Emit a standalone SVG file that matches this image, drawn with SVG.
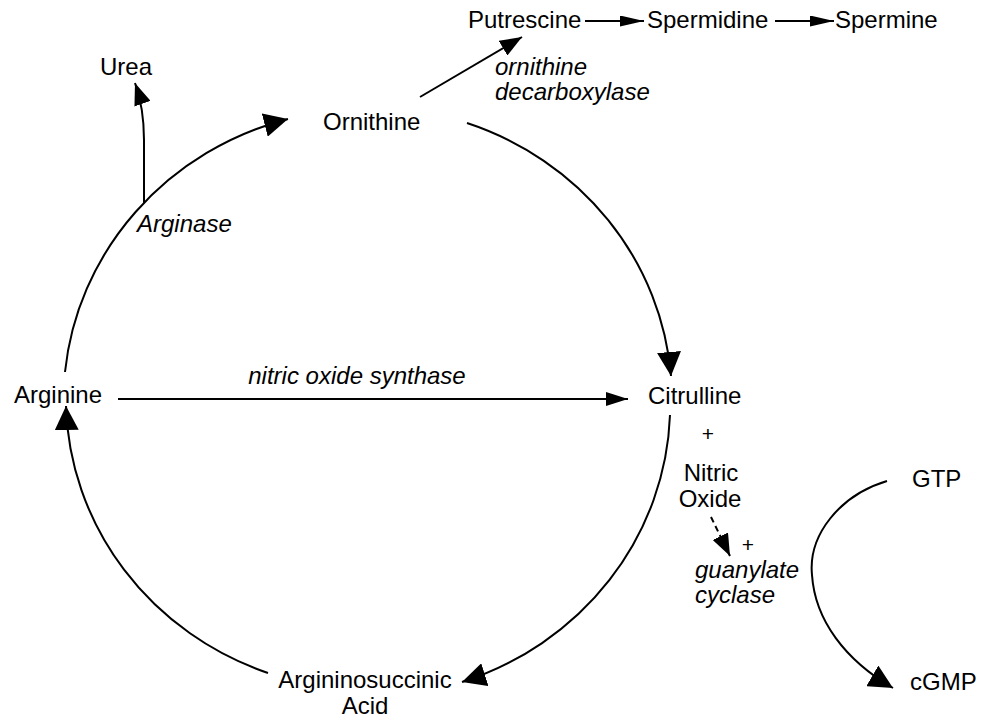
<svg xmlns="http://www.w3.org/2000/svg" width="981" height="719" viewBox="0 0 981 719">
<style>
  text { font-family: "Liberation Sans", Arial, Helvetica, sans-serif; font-size: 24px; fill: #000; }
  .it { font-style: italic; }
  .mid { text-anchor: middle; }
  .plus { font-size: 21px; }
  .ln { fill: none; stroke: #000; stroke-width: 2; }
  .dash { stroke-dasharray: 6 4; }
</style>
<defs>
  <marker id="ah-lg" viewBox="0 0 24 24" refX="24" refY="12" markerWidth="24" markerHeight="24" markerUnits="userSpaceOnUse" orient="auto"><path d="M0,0 L24,12 L0,24 Z" fill="#000"/></marker>
  <marker id="ah-sl" viewBox="0 0 24 11" refX="24" refY="5.5" markerWidth="24" markerHeight="11" markerUnits="userSpaceOnUse" orient="auto"><path d="M0,0 L24,5.5 L0,11 Z" fill="#000"/></marker>
  <marker id="ah-md" viewBox="0 0 22 14" refX="22" refY="7" markerWidth="22" markerHeight="14" markerUnits="userSpaceOnUse" orient="auto"><path d="M0,0 L22,7 L0,14 Z" fill="#000"/></marker>
  <marker id="ah-sm" viewBox="0 0 22 17" refX="22" refY="8.5" markerWidth="22" markerHeight="17" markerUnits="userSpaceOnUse" orient="auto"><path d="M0,0 L22,8.5 L0,17 Z" fill="#000"/></marker>
</defs>
<rect width="981" height="719" fill="#fff"/>

<g id="connectors">
  <path class="ln" d="M65,372 A303,292 0 0,1 288,119" marker-end="url(#ah-lg)"/>
  <path class="ln" d="M467,123 A303,292 0 0,1 671,376" marker-end="url(#ah-lg)"/>
  <path class="ln" d="M670,415 A303,292 0 0,1 462,682" marker-end="url(#ah-lg)"/>
  <path class="ln" d="M268,673 A303,292 0 0,1 66,406" marker-end="url(#ah-lg)"/>
  <path class="ln" d="M118,399 L628,399" marker-end="url(#ah-md)"/>
  <path class="ln" d="M144,203 L144,140 Q144,108 135,83" marker-end="url(#ah-sm)"/>
  <path class="ln" d="M420,97 L522,37" marker-end="url(#ah-sm)"/>
  <path class="ln" d="M585,21 L644,21" marker-end="url(#ah-sl)"/>
  <path class="ln" d="M775,21 L834,21" marker-end="url(#ah-sl)"/>
  <path class="ln dash" d="M711,517 L730,556" marker-end="url(#ah-sm)"/>
  <path class="ln" d="M887,481 C840,495 808,535 812,575 C815,620 845,660 893,688" marker-end="url(#ah-lg)"/>
  <text class="it" x="137" y="232">Arginase</text>
  <text class="it mid" x="357" y="384">nitric oxide synthase</text>
  <text class="it" x="495" y="75">ornithine</text>
  <text class="it" x="495" y="100">decarboxylase</text>
  <text class="it" x="695" y="578">guanylate</text>
  <text class="it" x="695" y="603">cyclase</text>
  <text class="mid plus" x="708" y="441">+</text>
  <text class="mid plus" x="748" y="552">+</text>
</g>

<g id="node-urea"><text x="100" y="75">Urea</text></g>
<g id="node-ornithine"><text x="323" y="130">Ornithine</text></g>
<g id="node-putrescine"><text x="468" y="28">Putrescine</text></g>
<g id="node-spermidine"><text x="647" y="28">Spermidine</text></g>
<g id="node-spermine"><text x="835" y="28">Spermine</text></g>
<g id="node-arginine"><text x="14" y="403">Arginine</text></g>
<g id="node-citrulline"><text x="648" y="404">Citrulline</text></g>
<g id="node-nitric-oxide"><text class="mid" x="711" y="481">Nitric</text><text class="mid" x="710" y="507">Oxide</text></g>
<g id="node-argininosuccinic"><text class="mid" x="365" y="688">Argininosuccinic</text><text class="mid" x="365" y="714">Acid</text></g>
<g id="node-gtp"><text x="912" y="487">GTP</text></g>
<g id="node-cgmp"><text x="910" y="690">cGMP</text></g>
</svg>
